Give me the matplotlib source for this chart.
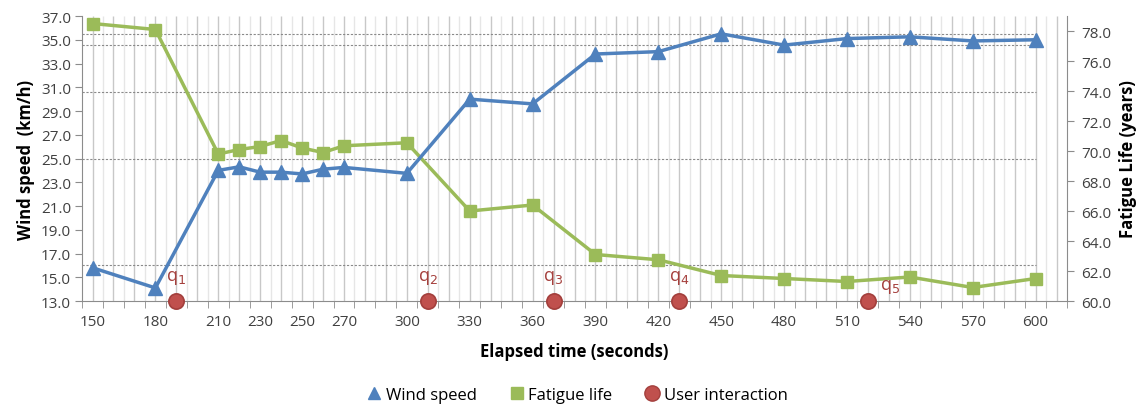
import numpy as np
import matplotlib
matplotlib.use("Agg")
import matplotlib.pyplot as plt
from matplotlib.lines import Line2D

plt.rcParams['font.family'] = ['Open Sans', 'DejaVu Sans']

# data
time_s = [150, 180, 210, 220, 230, 240, 250, 260, 270, 300,
          330, 360, 390, 420, 450, 480, 510, 540, 570, 600]
wind_speed = [15.8, 14.1, 24.0, 24.3, 23.85, 23.85, 23.7, 24.1, 24.25, 23.75,
              30.0, 29.6, 33.8, 34.0, 35.5, 34.55, 35.1, 35.25, 34.9, 35.0]
fatigue_life = [78.5, 78.1, 69.8, 70.1, 70.3, 70.7, 70.2, 69.9, 70.35, 70.55,
                66.0, 66.4, 63.1, 62.75, 61.7, 61.5, 61.3, 61.6, 60.9, 61.5]
interaction_t = [190, 310, 370, 430, 520]
interaction_lbl = ['q$_1$', 'q$_2$', 'q$_3$', 'q$_4$', 'q$_5$']
ref_levels = [35.5, 34.6, 30.6, 25.0, 16.0]
xtick_labels = [150, 180, 210, 230, 250, 270, 300, 330, 360, 390,
                420, 450, 480, 510, 540, 570, 600]

BLUE = '#4F81BD'
GREEN = '#9BBB59'
RED = '#C0504D'
TXT = '#404040'
AX = '#8C8C8C'

fig = plt.figure(figsize=(11.44, 4.10), dpi=100)
ax = fig.add_axes([0.0717, 0.2634, 0.8610, 0.6951])
ax2 = ax.twinx()
ax.set_zorder(ax2.get_zorder() + 1)
ax.patch.set_visible(False)

x_lo, x_hi = 145, 615
ax.set_xlim(x_lo, x_hi)
ax.set_ylim(13, 37)
ax2.set_ylim(60, 79)

# vertical grid: darker at every 10 s, lighter half way between
ax2.vlines(np.arange(150, 611, 10), 60, 79, color='#C8C8C8', lw=1.0, zorder=0)
ax2.vlines(np.arange(155, 611, 10), 60, 79, color='#E6E6E6', lw=1.0, zorder=0)
# dotted horizontal reference lines
ax2.hlines([60 + (v - 13) * 19 / 24 for v in ref_levels], x_lo, 600,
           color='#8A8A8A', lw=0.8, linestyles=(0, (2, 1.5)), zorder=1)

ax2.plot(time_s, fatigue_life, color=GREEN, lw=2.5, marker='s', ms=8,
         zorder=3)
ax.plot(time_s, wind_speed, color=BLUE, lw=2.5, marker='^', ms=9.5,
        zorder=4)
ax.plot(interaction_t, [13] * len(interaction_t), ls='none', marker='o',
        ms=11, mfc=RED, mec='#A33F3C', mew=1.2, clip_on=False, zorder=5)
for t, lbl in zip(interaction_t, interaction_lbl):
    dx = 10.5 if t == 520 else 0
    dy = 1.3 if t == 520 else 2.0
    ax.text(t + dx, 13 + dy, lbl, color='#A5403D', fontsize=13,
            ha='center', va='center', zorder=6)

# axes styling
ax.set_xticks(xtick_labels)
ax.set_xticks(np.arange(145, 616, 10), minor=True)
ax.tick_params(axis='x', which='major', length=0, pad=9, labelsize=11,
               colors=TXT)
ax.tick_params(axis='x', which='minor', length=5, color=AX, direction='out')
ax.set_yticks(np.arange(13, 37.1, 2))
ax.yaxis.set_major_formatter(matplotlib.ticker.FormatStrFormatter('%.1f'))
ax.tick_params(axis='y', length=5, color=AX, labelsize=11, colors=TXT,
               pad=3)
ax2.set_yticks(np.arange(60, 78.1, 2))
ax2.yaxis.set_major_formatter(matplotlib.ticker.FormatStrFormatter('%.1f'))
ax2.tick_params(axis='y', length=5, color=AX, labelsize=11, colors=TXT,
                pad=5)
for a in (ax, ax2):
    a.spines['top'].set_visible(False)
    for s in ('left', 'right', 'bottom'):
        a.spines[s].set_color(AX)
ax.spines['right'].set_visible(False)
ax2.spines['left'].set_visible(False)
ax2.spines['bottom'].set_visible(False)

ax.set_xlabel('Elapsed time (seconds)', fontsize=12, fontweight='bold',
              color='black', labelpad=10)
ax.set_ylabel('Wind speed  (km/h)', fontsize=12, fontweight='bold',
              color='black', labelpad=4)
ax2.set_ylabel('Fatigue Life (years)', fontsize=12, fontweight='bold',
               color='black', labelpad=6)

handles = [
    Line2D([], [], ls='none', marker='^', ms=9, color=BLUE),
    Line2D([], [], ls='none', marker='s', ms=8, color=GREEN),
    Line2D([], [], ls='none', marker='o', ms=11, mfc=RED, mec='#A33F3C'),
]
fig.legend(handles, ['Wind speed', 'Fatigue life', 'User interaction'],
           loc='lower center', bbox_to_anchor=(0.505, -0.022), ncol=3,
           frameon=False, fontsize=12, handlelength=0.8, handletextpad=0.3,
           columnspacing=2.0, labelcolor='black')

fig.savefig('out.png', dpi=100)
